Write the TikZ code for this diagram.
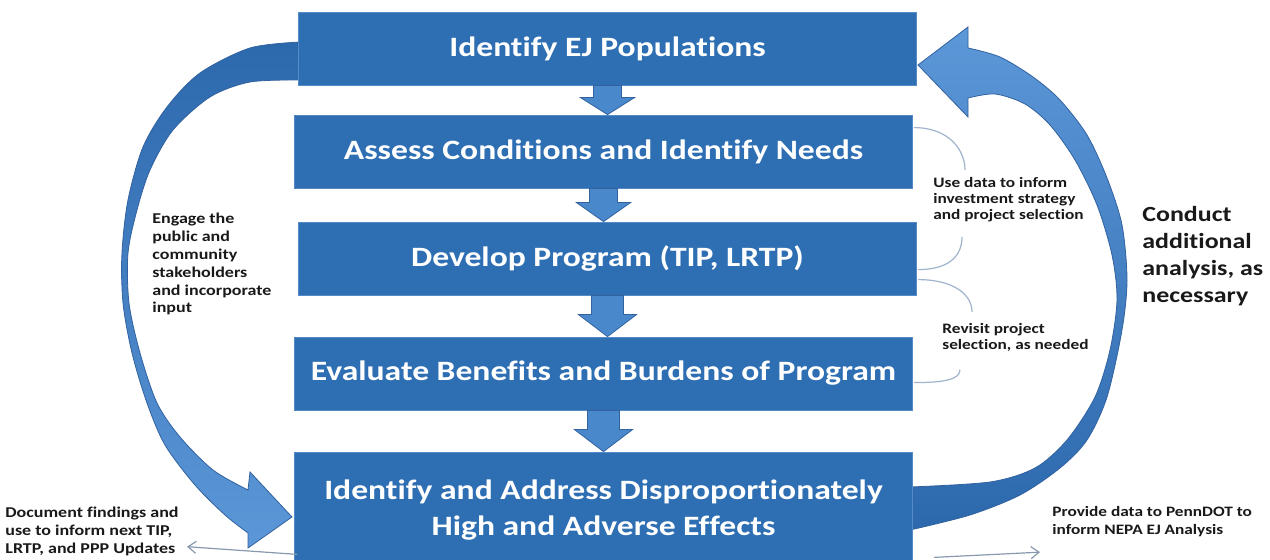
\documentclass[tikz,border=0pt]{standalone}
\usepackage{fontspec}
\setmainfont{Carlito}[FakeStretch=1.2, Ligatures=NoCommon]
\usetikzlibrary{calc,arrows.meta}

\definecolor{boxblue}{RGB}{46,111,180}
\definecolor{boxline}{RGB}{84,138,200}
\definecolor{arrblue}{RGB}{74,136,204}
\definecolor{arrline}{RGB}{50,98,160}
\definecolor{bandlight}{RGB}{92,152,216}
\definecolor{banddark}{RGB}{44,104,172}
\definecolor{thinline}{RGB}{160,180,205}

\tikzset{
  procbox/.style={draw=boxline, line width=0.4pt, fill=boxblue, text=white,
    minimum width=309pt, minimum height=36.5pt, inner sep=0pt, align=center,
    font=\fontsize{14}{18}\selectfont\bfseries},
  flowarr/.style={fill=arrblue, draw=arrline, line width=0.4pt},
  band/.style={draw=arrline, line width=0.4pt},
  note/.style={inner sep=0pt, anchor=north west, align=left, text=black!90,
    font=\fontsize{7.5}{8.9}\selectfont\bfseries},
  bracket/.style={draw=thinline, line width=0.6pt},
  pointer/.style={draw=thinline!85!black, line width=0.6pt,
    -{Straight Barb[length=4pt,width=6pt]}}
}

% block arrow between two boxes: upper, lower, shaft half width, head half width, head length
\newcommand{\downblock}[5]{%
  \filldraw[flowarr] let \p1=(#1.south), \p2=(#2.north) in
    (\x1-#3,\y1) -- (\x1+#3,\y1) -- (\x1+#3,\y2+#5) -- (\x1+#4,\y2+#5)
    -- (\x1,\y2) -- (\x1-#4,\y2+#5) -- (\x1-#3,\y2+#5) -- cycle;}

\begin{document}
\begin{tikzpicture}[x=0.5pt,y=-0.5pt]
\fill[white] (0,0) rectangle (1270,560);
\useasboundingbox (0,0) rectangle (1270,560);

% left loop arrow
\shadedraw[band, top color=banddark, bottom color=bandlight]
  plot[smooth] coordinates {(300,42) (250,48) (200,73) (167,107) (143,147)
    (128,200) (122,253) (123,303) (132,353) (147,403) (165,445) (195,485)
    (225,515) (248,533)}
  -- (248,548) -- (292,517) -- (250,472)
  -- plot[smooth] coordinates {(248,490) (213,470) (180,437) (157,403)
    (140,353) (129,303) (128,253) (137,210) (150,170) (173,130) (210,97)
    (250,82) (300,80)}
  -- cycle;

% right loop arrow
\shadedraw[band, top color=bandlight, bottom color=banddark]
  plot[smooth] coordinates {(910,530) (970,515) (1020,495) (1060,468)
    (1087,440) (1107,397) (1122,330) (1127,280) (1122,225) (1107,178)
    (1087,135) (1060,100) (1033,77) (1000,57) (968,48)}
  -- (968,27) -- (918,65) -- (968,117)
  -- plot[smooth] coordinates {(968,98) (995,94) (1025,104) (1050,125)
    (1075,160) (1097,205) (1112,255) (1117,300) (1110,350) (1095,397)
    (1067,440) (1035,468) (990,482) (910,487)}
  -- cycle;

% main steps
\node[procbox] (b1) at (607.5,48.5) {Identify EJ Populations};
\node[procbox] (b2) at (603.5,151.5) {Assess Conditions and Identify Needs};
\node[procbox] (b3) at (607.5,258.5) {Develop Program (TIP, LRTP)};
\node[procbox] (b4) at (603.5,373.5) {Evaluate Benefits and Burdens of Program};
\node[procbox, minimum height=58pt] (b5) at (603.5,510)
  {Identify and Address Disproportionately\\High and Adverse Effects};

\downblock{b1}{b2}{7pt}{13.5pt}{8.5pt}
\downblock{b2}{b3}{7pt}{13.5pt}{9.5pt}
\downblock{b3}{b4}{8pt}{14.5pt}{11pt}
\downblock{b4}{b5}{8pt}{14.5pt}{11pt}

% side notes
\node[note] (engage) at (152,213)
  {Engage the\\public and\\community\\stakeholders\\and incorporate\\input};
\node[note, font=\fontsize{7.2}{7.9}\selectfont\bfseries] (usedata) at (933,177)
  {Use data to inform\\investment strategy\\and project selection};
\node[note, font=\fontsize{7.2}{7.9}\selectfont\bfseries] (revisit) at (942,323)
  {Revisit project\\selection, as needed};
\node[note, font=\fontsize{10.8}{13.5}\selectfont\bfseries] (conduct) at (1142,206)
  {Conduct\\additional\\analysis, as\\necessary};
\node[note, font=\fontsize{7.5}{9}\selectfont\bfseries] (docfind) at (5,507)
  {Document findings and\\use to inform next TIP,\\LRTP, and PPP Updates};
\node[note, font=\fontsize{7.2}{9}\selectfont\bfseries] (provide) at (1052,506)
  {Provide data to PennDOT to\\inform NEPA EJ Analysis};

% brackets to the notes
\draw[bracket] ($(b2.north east)+(1,13)$) .. controls +(35,0) and +(0,-20) .. ($(usedata.north west)+(32,-7)$);
\draw[bracket] ($(usedata.south west)+(29,15)$) .. controls +(0,20) and +(30,0) .. ($(b3.north east)+(1,48)$);
\draw[bracket] ($(b3.north east)+(1,58)$) .. controls +(35,0) and +(0,-18) .. ($(revisit.north west)+(30,-11)$);
\draw[bracket] ($(revisit.south west)+(18,18)$) .. controls +(0,10) and +(30,0) .. ($(b4.north east)+(1,46)$);

% outputs
\draw[pointer] ($(b5.south west)+(3,-14)$) -- ($(docfind.south east)+(8,-10)$);
\draw[pointer] ($(b5.south east)+(21,-11)$) -- ($(provide.south west)+(-12,15)$);
\end{tikzpicture}
\end{document}
